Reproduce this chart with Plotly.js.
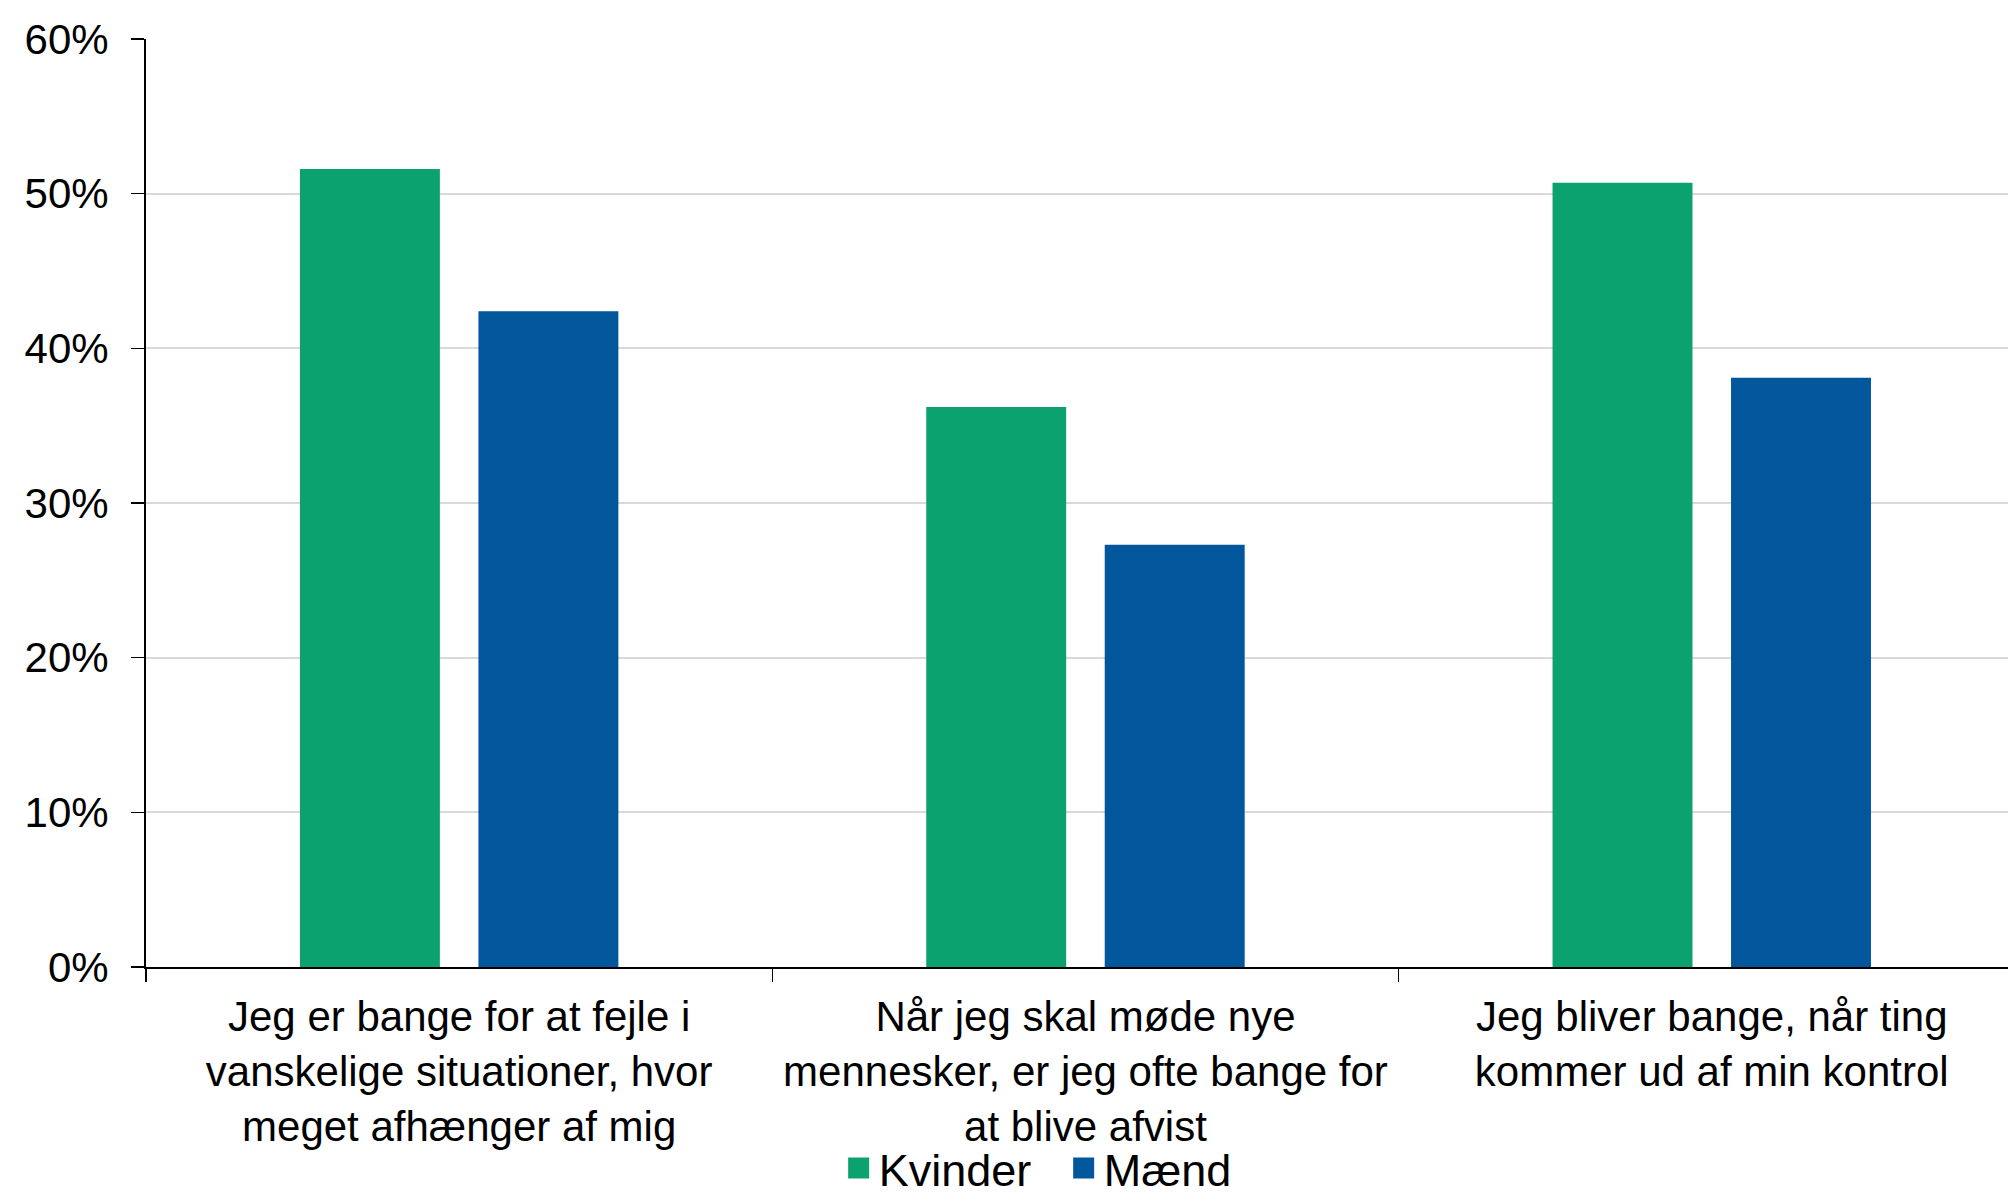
<!DOCTYPE html>
<html>
<head>
<meta charset="utf-8">
<script src="https://cdn.plot.ly/plotly-3.0.1.min.js"></script>
<style>html,body{margin:0;padding:0;background:#fff;}#chart{width:2008px;height:1202px;}</style>
</head>
<body>
<div id="chart"></div>
<script>
const categories = [
  "Jeg er bange for at fejle i<br>vanskelige situationer, hvor<br>meget afhænger af mig",
  "Når jeg skal møde nye<br>mennesker, er jeg ofte bange for<br>at blive afvist",
  "Jeg bliver bange, når ting<br>kommer ud af min kontrol"
];
const seriesNames = ["Kvinder", "Mænd"];
const seriesColors = ["#0ca26f", "#02569c"];
const kvinder = [0.516, 0.362, 0.507];
const maend = [0.424, 0.273, 0.381];
const yTickVals = [0, 0.1, 0.2, 0.3, 0.4, 0.5, 0.6];
const yTickText = ["0%", "10%", "20%", "30%", "40%", "50%", "60%"];

const font = {family: "Liberation Sans, Arial, sans-serif", size: 42, color: "#000"};
const legendFont = {family: "Liberation Sans, Arial, sans-serif", size: 45, color: "#000"};

const seriesValues = [kvinder, maend];
const traces = [];
seriesValues.forEach((vals, i) => {
  traces.push({type: "bar", name: seriesNames[i], x: categories, y: vals,
    marker: {color: seriesColors[i]}, showlegend: false, hoverinfo: "skip"});
});
// legend entries with larger square symbols
seriesNames.forEach((nm, i) => {
  traces.push({type: "scatter", mode: "markers", name: nm, x: [null], y: [null],
    marker: {symbol: "square", size: 22, color: seriesColors[i], line: {width: 5, color: seriesColors[i]}},
    showlegend: true, hoverinfo: "skip"});
});

const layout = {
  width: 2008, height: 1202,
  margin: {l: 146, r: 0, t: 39, b: 235},
  paper_bgcolor: "#fff", plot_bgcolor: "#fff",
  font: font,
  barmode: "group",
  bargap: 0.43,
  bargroupgap: 0.216,
  showlegend: true,
  legend: {
    orientation: "h", xref: "paper", x: 0.372, xanchor: "left",
    yref: "container", y: 0.058, yanchor: "top",
    font: legendFont, itemwidth: 30, entrywidth: 180, itemsizing: "trace",
    bgcolor: "rgba(0,0,0,0)"
  },
  xaxis: {
    type: "category",
    range: [-0.5, 2.473],
    showline: true, linecolor: "#000", linewidth: 2,
    ticks: "outside", ticklen: 13, tickwidth: 1.5, tickcolor: "#000",
    tickson: "boundaries",
    showgrid: false, zeroline: false,
    tickfont: font,
    ticklabelstandoff: 12,
    automargin: false
  },
  yaxis: {
    range: [0, 0.6],
    tickvals: yTickVals, ticktext: yTickText,
    showline: true, linecolor: "#000", linewidth: 2,
    ticks: "outside", ticklen: 13, tickwidth: 1.5, tickcolor: "#000",
    showgrid: true, gridcolor: "#d9d9d9", gridwidth: 2,
    zeroline: false,
    tickfont: font,
    ticklabelstandoff: 14,
    automargin: false
  }
};

Plotly.newPlot("chart", traces, layout, {staticPlot: true, displayModeBar: false});
</script>
</body>
</html>
